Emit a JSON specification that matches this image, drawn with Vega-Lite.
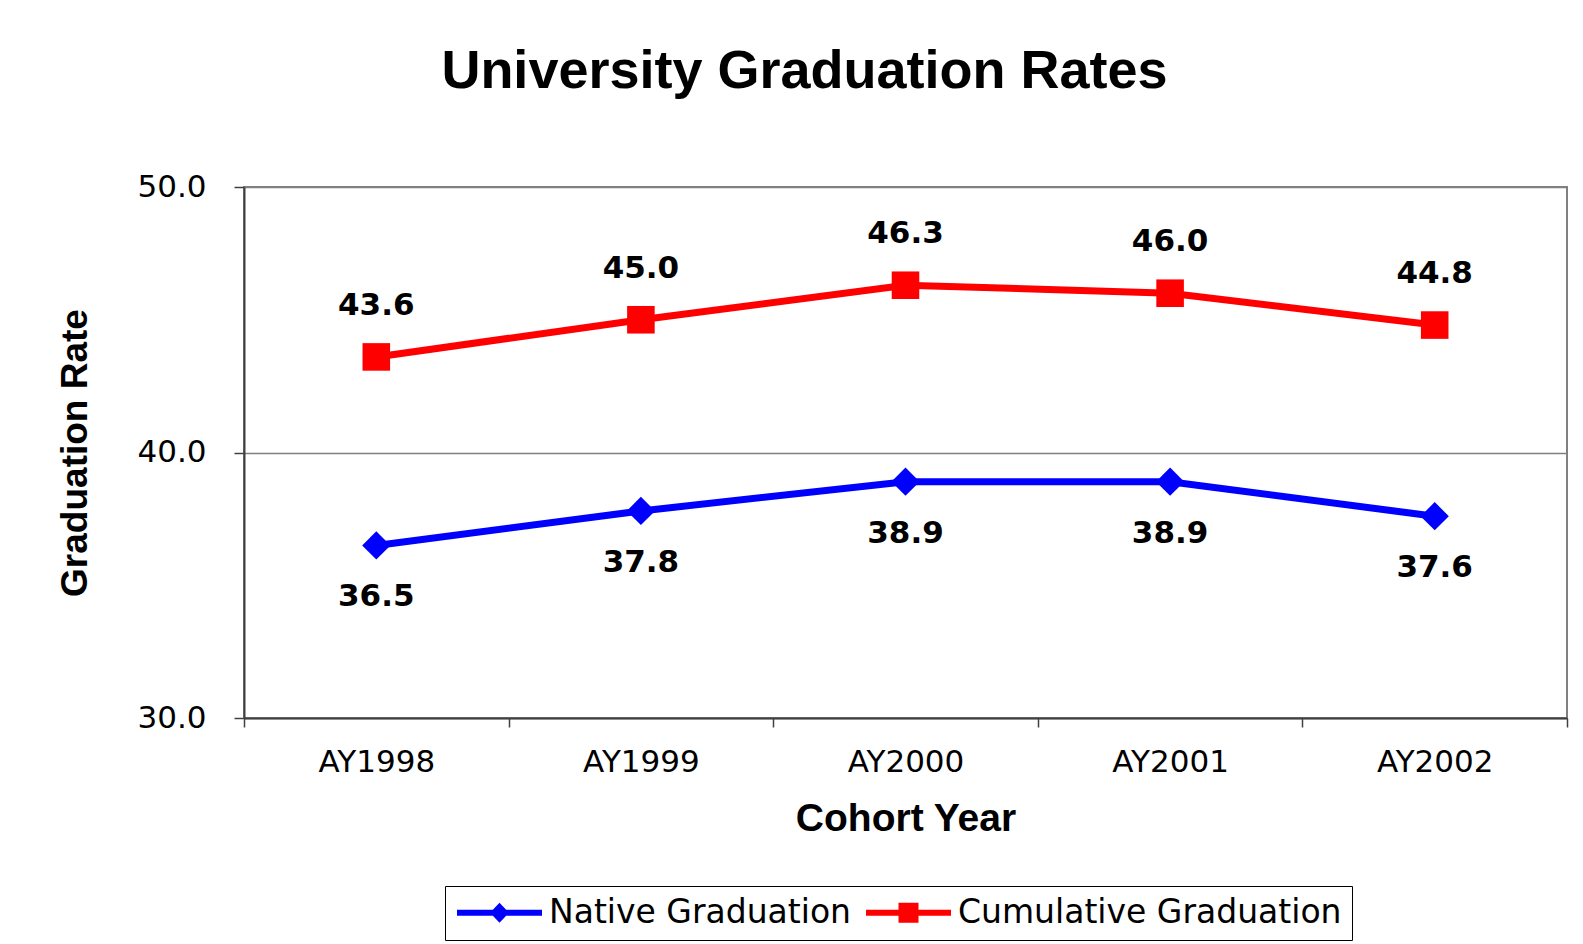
{
  "$schema": "https://vega.github.io/schema/vega-lite/v6.json",
  "width": 1323,
  "height": 531,
  "autosize": {"type": "none"},
  "padding": {"left": 244, "top": 187, "right": 16, "bottom": 226},
  "background": "white",
  "title": {
    "text": "University Graduation Rates",
    "font": "Liberation Sans",
    "fontSize": 54,
    "fontWeight": "bold",
    "color": "#000000",
    "anchor": "middle",
    "dx": -101,
    "offset": 72
  },
  "data": {
    "values": [
      {"year": "AY1998", "series": "Native Graduation", "rate": 36.5},
      {"year": "AY1999", "series": "Native Graduation", "rate": 37.8},
      {"year": "AY2000", "series": "Native Graduation", "rate": 38.9},
      {"year": "AY2001", "series": "Native Graduation", "rate": 38.9},
      {"year": "AY2002", "series": "Native Graduation", "rate": 37.6},
      {"year": "AY1998", "series": "Cumulative Graduation", "rate": 43.6},
      {"year": "AY1999", "series": "Cumulative Graduation", "rate": 45.0},
      {"year": "AY2000", "series": "Cumulative Graduation", "rate": 46.3},
      {"year": "AY2001", "series": "Cumulative Graduation", "rate": 46.0},
      {"year": "AY2002", "series": "Cumulative Graduation", "rate": 44.8}
    ]
  },
  "encoding": {
    "x": {
      "field": "year",
      "type": "ordinal",
      "scale": {"type": "band", "paddingInner": 0, "paddingOuter": 0},
      "axis": {
        "title": "Cohort Year",
        "labelAngle": 0,
        "labelFont": "DejaVu Sans",
        "labelFontSize": 31,
        "labelColor": "#000000",
        "labelPadding": 20,
        "tickSize": 9,
        "tickBand": "extent",
        "tickColor": "#404040",
        "tickWidth": 1.5,
        "domainColor": "#404040",
        "domainWidth": 2,
        "grid": false,
        "titleFont": "Liberation Sans",
        "titleFontSize": 39,
        "titleFontWeight": "bold",
        "titleColor": "#000000",
        "titlePadding": 22
      }
    },
    "y": {
      "field": "rate",
      "type": "quantitative",
      "scale": {"domain": [30, 50], "nice": false, "zero": false},
      "axis": {
        "title": "Graduation Rate",
        "values": [30, 40, 50],
        "format": ".1f",
        "labelFont": "DejaVu Sans",
        "labelFontSize": 31,
        "labelColor": "#000000",
        "labelPadding": 28,
        "tickSize": 10,
        "tickColor": "#404040",
        "tickWidth": 1.5,
        "domainColor": "#404040",
        "domainWidth": 2,
        "grid": true,
        "gridColor": "#808080",
        "gridWidth": 1.5,
        "titleFont": "Liberation Sans",
        "titleFontSize": 37,
        "titleFontWeight": "bold",
        "titleColor": "#000000",
        "titlePadding": 42
      }
    }
  },
  "layer": [
    {
      "mark": {"type": "line", "strokeWidth": 7},
      "encoding": {
        "color": {
          "field": "series",
          "type": "nominal",
          "scale": {"domain": ["Native Graduation", "Cumulative Graduation"], "range": ["#0000FF", "#FF0000"]},
          "legend": {
            "orient": "none",
            "legendX": 201,
            "legendY": 699,
            "direction": "horizontal",
            "title": null,
            "labelFont": "DejaVu Sans",
            "labelFontSize": 33,
            "labelColor": "#000000",
            "labelLimit": 0,
            "strokeColor": "#000000",
            "fillColor": "#FFFFFF",
            "padding": 10,
            "symbolSize": 400,
            "symbolOffset": 28,
            "labelOffset": 33,
            "columnPadding": 13,
            "encode": {
              "symbols": {
                "update": {
                  "shape": {"signal": "datum.value === 'Native Graduation' ? 'M-4.25,-0.3L4.25,-0.3L4.25,0.3L-4.25,0.3Z M0,-1L0.95,0L0,1L-0.95,0Z' : 'M-4.25,-0.3L4.25,-0.3L4.25,0.3L-4.25,0.3Z M-1,-1L1,-1L1,1L-1,1Z'"},
                  "fill": {"scale": "color", "field": "value"},
                  "stroke": {"value": "transparent"},
                  "strokeWidth": {"value": 0},
                  "opacity": {"value": 1}
                }
              }
            }
          }
        }
      }
    },
    {
      "transform": [{"filter": "datum.series === 'Native Graduation'"}],
      "mark": {"type": "point", "filled": true, "size": 800, "opacity": 1, "shape": "diamond", "color": "#0000FF"}
    },
    {
      "transform": [{"filter": "datum.series === 'Cumulative Graduation'"}],
      "mark": {"type": "point", "filled": true, "size": 760, "opacity": 1, "shape": "square", "color": "#FF0000"}
    },
    {
      "transform": [{"filter": "datum.series === 'Cumulative Graduation'"}],
      "mark": {"type": "text", "font": "DejaVu Sans", "fontSize": 31, "fontWeight": "bold", "color": "#000000", "dy": -51, "baseline": "middle"},
      "encoding": {"text": {"field": "rate", "type": "quantitative", "format": ".1f"}}
    },
    {
      "transform": [{"filter": "datum.series === 'Native Graduation'"}],
      "mark": {"type": "text", "font": "DejaVu Sans", "fontSize": 31, "fontWeight": "bold", "color": "#000000", "dy": 52, "baseline": "middle"},
      "encoding": {"text": {"field": "rate", "type": "quantitative", "format": ".1f"}}
    }
  ],
  "config": {
    "view": {"stroke": "#808080", "strokeWidth": 2},
    "font": "DejaVu Sans"
  }
}
